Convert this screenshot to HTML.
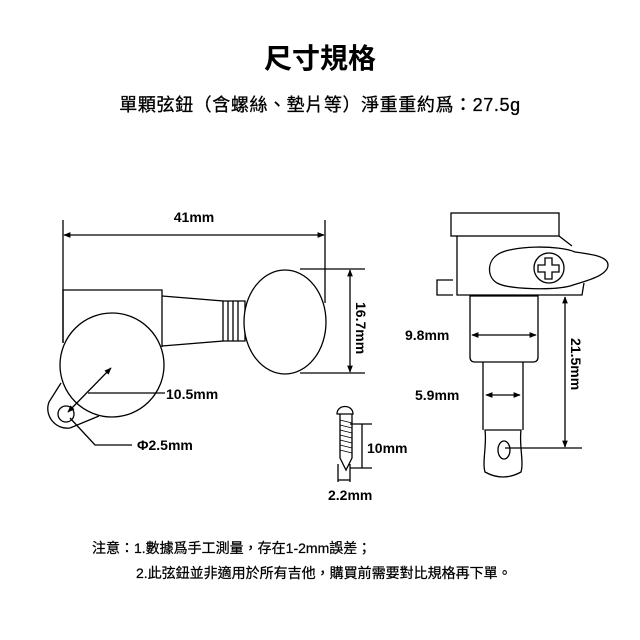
<!DOCTYPE html>
<html><head><meta charset="utf-8"><style>
body{margin:0;background:#fff;width:640px;height:640px;overflow:hidden;font-family:"Liberation Sans","Noto Sans CJK TC",sans-serif;}
svg{position:absolute;left:0;top:0}
</style></head><body>
<svg width="640" height="640" viewBox="0 0 640 640" font-family="Liberation Sans, Noto Sans CJK TC, sans-serif">
<defs><marker id="a" viewBox="0 0 10 10" refX="9" refY="5" markerWidth="5.5" markerHeight="5.5" orient="auto-start-reverse"><path d="M0,1 L10,5 L0,9 z" fill="#000"/></marker></defs>
<text x="320" y="68" text-anchor="middle" font-size="28" font-weight="bold">尺寸規格</text>
<text x="320" y="111" text-anchor="middle" font-size="18" letter-spacing="0.6" stroke="#000" stroke-width="0.3">單顆弦鈕（含螺絲、墊片等）淨重重約爲：27.5g</text>
<g fill="none" stroke="#000" stroke-width="1.3">
<line x1="63" y1="220" x2="63" y2="343"/><line x1="325" y1="220" x2="325" y2="303"/>
<line x1="64" y1="235" x2="324" y2="235" marker-start="url(#a)" marker-end="url(#a)"/>
<path d="M63,343 V290 H162 V347"/>
<path d="M162,296 L223,301 V341 L162,346"/>
<path d="M223,301 H245 V341 H223 M228,301 V341 M233,301 V341 M238,301 V341"/>
<ellipse cx="285" cy="322" rx="41" ry="52" fill="#fff"/>
<line x1="300" y1="269" x2="365" y2="269"/><line x1="300" y1="373" x2="365" y2="373"/>
<line x1="350" y1="270" x2="350" y2="372" marker-start="url(#a)" marker-end="url(#a)"/>
<path d="M61,383 L49,402 C44,415 55,430 70,428 L99,416"/>
<circle cx="112" cy="365" r="52" fill="#fff"/>
<circle cx="66" cy="414" r="8"/>
<line x1="88" y1="393" x2="165" y2="393"/>
<line x1="68" y1="412" x2="111" y2="368" marker-start="url(#a)" marker-end="url(#a)"/>
<path d="M70,418 L95,445 H132"/>
<path d="M337,414 C337,404 353,404 353,414 Z"/>
<path d="M340,414 V458 L346,470 L352,458 V414"/>
<path d="M340,420 L352,423 M340,425 L352,428 M340,430 L352,433 M340,435 L352,438 M340,440 L352,443 M340,445 L352,448 M340,450 L352,453" stroke-width="0.8"/>
<line x1="350" y1="424" x2="372" y2="424"/><line x1="350" y1="468" x2="372" y2="468"/>
<line x1="362" y1="424" x2="362" y2="468"/>
<line x1="338" y1="464" x2="338" y2="482"/><line x1="350" y1="464" x2="350" y2="482"/>
<line x1="338" y1="480" x2="350" y2="480"/>
<rect x="451" y="213" width="108" height="23"/>
<path d="M457,236 V295 H582 L584,283 M559,236 L572,246"/>
<path d="M453,280 H437 V295 H453"/>
<path d="M497,255 C510,245 560,245 575,252 C590,254 608,256 608,265 C608,276 585,281 570,286 C555,290 510,290 497,283 C487,277 487,262 497,255 Z" fill="#fff"/>
<circle cx="549" cy="268" r="15"/>
<path d="M545,258 h7 v7 h7 v7 h-7 v7 h-7 v-7 h-7 v-7 h7 z"/>
<path d="M470,296 H538 V357 Q538,362 533,362 H475 Q470,362 470,357 Z"/>
<line x1="472" y1="335" x2="536" y2="335" marker-start="url(#a)" marker-end="url(#a)"/>
<path d="M483,362 V430 M523,362 V430"/>
<line x1="486" y1="395" x2="520" y2="395" marker-start="url(#a)" marker-end="url(#a)"/>
<path d="M485,430 H521 C519,445 524,462 521,472 Q503,482 485,472 C482,462 487,445 485,430 Z"/>
<ellipse cx="504" cy="450" rx="6" ry="9"/>
<line x1="505" y1="448" x2="582" y2="448"/>
<line x1="565" y1="297" x2="565" y2="447" marker-start="url(#a)" marker-end="url(#a)"/>
</g>
<g font-size="14" font-weight="bold">
<text x="194" y="222" text-anchor="middle">41mm</text>
<text x="166" y="399">10.5mm</text>
<text x="137" y="450">Φ2.5mm</text>
<text x="367" y="453">10mm</text>
<text x="328" y="500">2.2mm</text>
<text x="405" y="340">9.8mm</text>
<text x="415" y="400">5.9mm</text>
<text transform="translate(356,302) rotate(90)">16.7mm</text>
<text transform="translate(571,338) rotate(90)">21.5mm</text>
</g>
<g font-size="14" stroke="#000" stroke-width="0.25">
<text x="92" y="553">注意：1.數據爲手工測量，存在1-2mm誤差；</text>
<text x="136" y="578">2.此弦鈕並非適用於所有吉他，購買前需要對比規格再下單。</text>
</g>
</svg>
</body></html>
